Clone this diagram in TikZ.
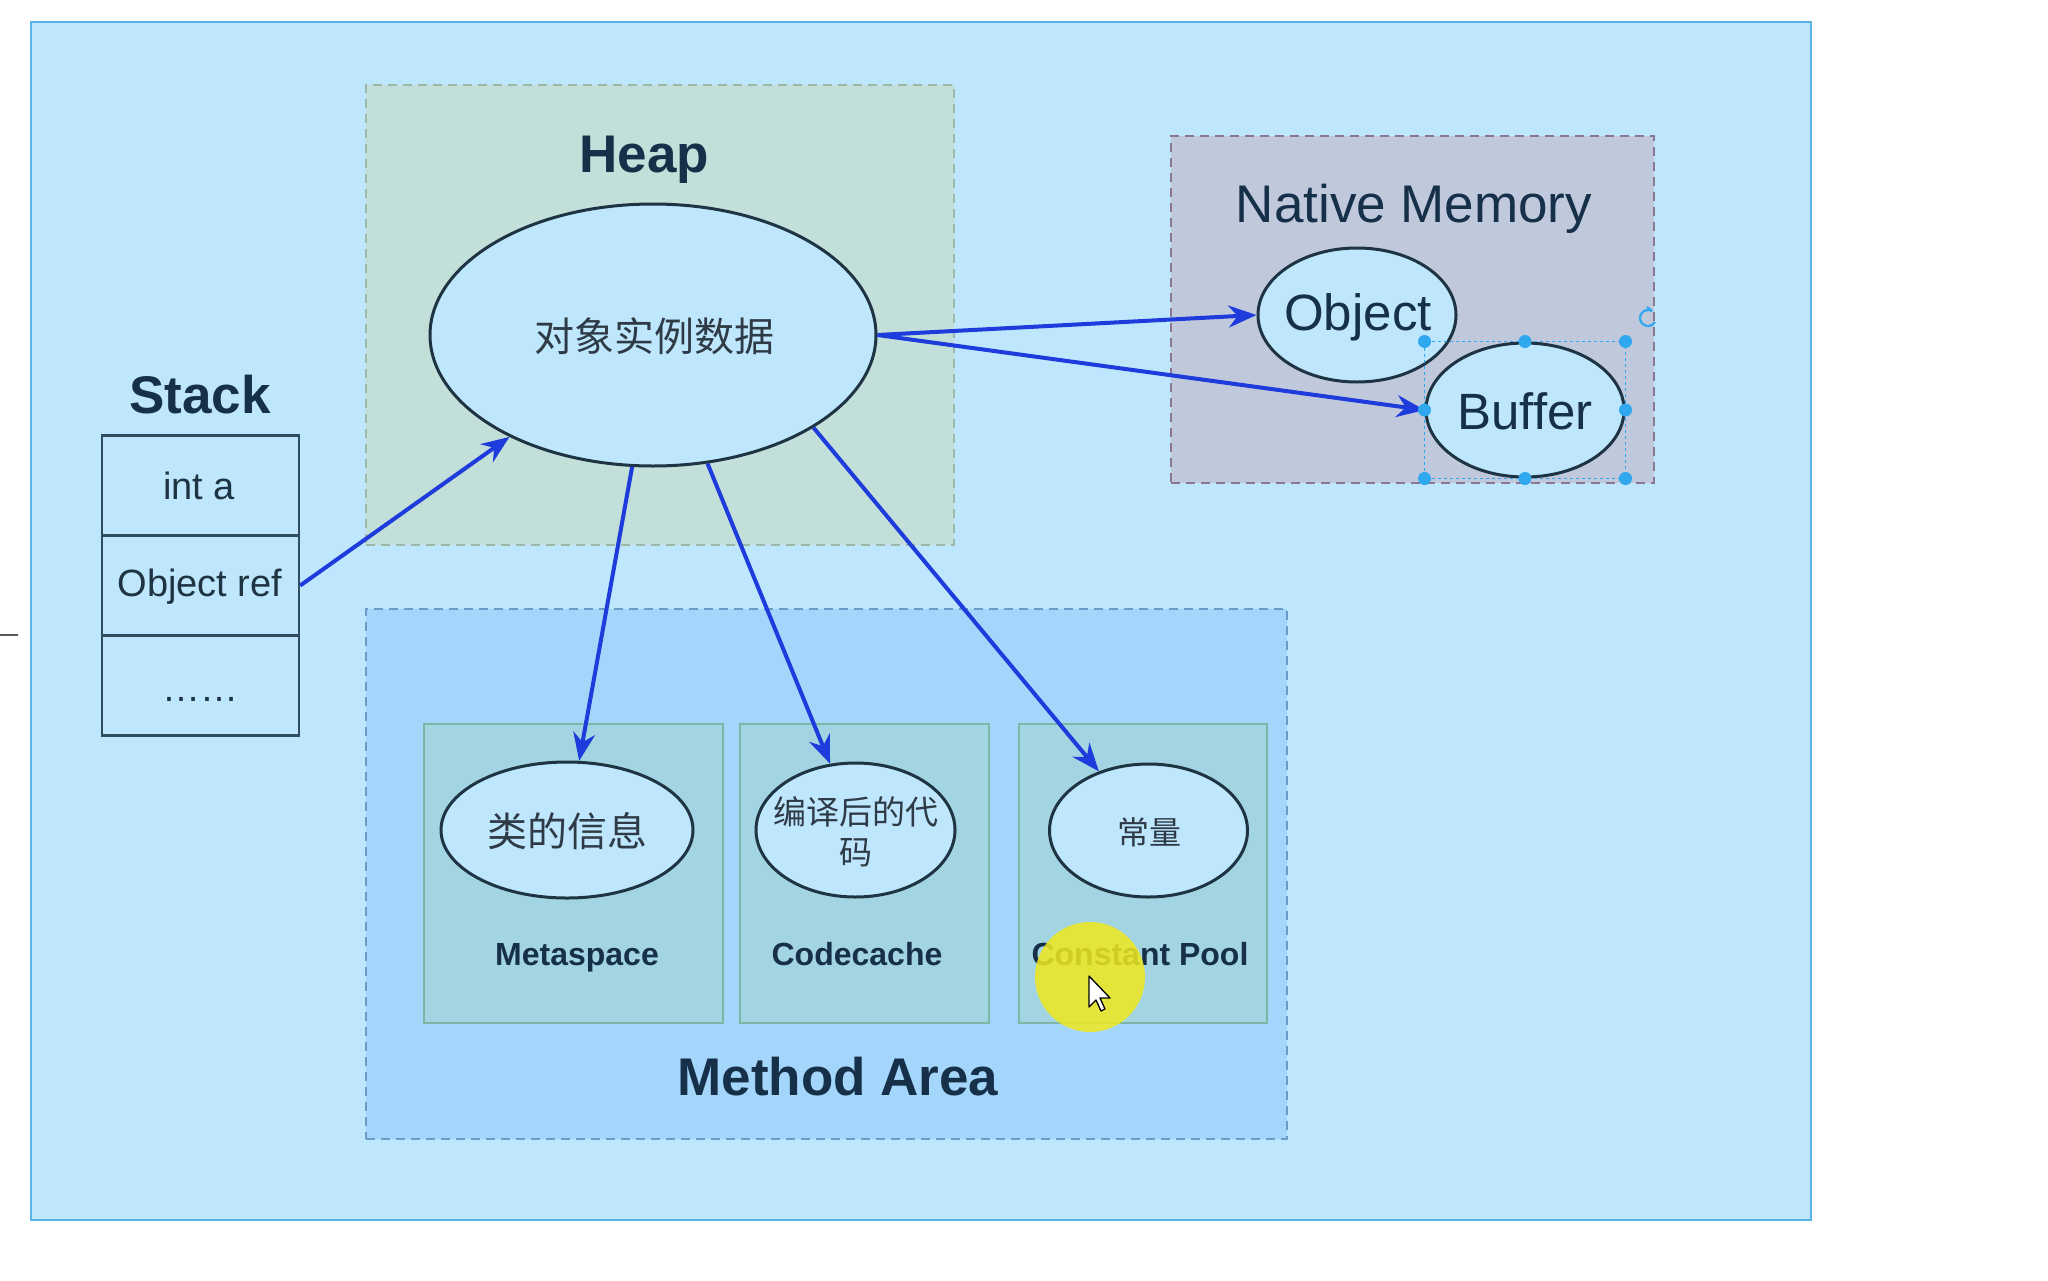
\documentclass[tikz,border=0pt]{standalone}
\usepackage{fontspec}
\setmainfont{Liberation Sans}
\newfontfamily\cjk{Noto Sans CJK SC}
\usetikzlibrary{shapes.geometric,arrows.meta}
\definecolor{bgblue}{HTML}{BEE6FC}
\definecolor{outerline}{HTML}{5AB4E6}
\definecolor{heapfill}{HTML}{C2DFDA}
\definecolor{heapline}{HTML}{9DB8A6}
\definecolor{nativefill}{HTML}{C0C8DC}
\definecolor{nativeline}{HTML}{8A7890}
\definecolor{methodfill}{HTML}{A3D6FA}
\definecolor{methodline}{HTML}{6A9BC9}
\definecolor{subfill}{HTML}{A3D4E1}
\definecolor{subline}{HTML}{7DB5A6}
\definecolor{darkline}{HTML}{1E3442}
\definecolor{cellline}{HTML}{2F4D5E}
\definecolor{navy}{HTML}{16304A}
\definecolor{cjkgray}{HTML}{2E3B46}
\definecolor{arrowblue}{HTML}{1E3CDC}
\definecolor{handle}{HTML}{2FA8F0}
\definecolor{hilite}{HTML}{F0E81E}
\tikzset{
  box/.style={rectangle, inner sep=0pt, line width=2pt},
  ell/.style={ellipse, draw=darkline, fill=bgblue, line width=3pt, inner sep=0pt},
  stackcell/.style={rectangle, draw=cellline, fill=bgblue, line width=2.5pt, minimum width=197pt, minimum height=100pt, inner sep=0pt},
  celltext/.style={inner sep=0pt, text=darkline, font=\fontsize{38}{44}\selectfont},
  ctext/.style={inner sep=0pt, text=cjkgray},
  etext/.style={inner sep=0pt, text=navy, font=\fontsize{51}{60}\selectfont},
  bigtitle/.style={inner sep=0pt, anchor=base, text=navy, font=\fontsize{53}{60}\selectfont\bfseries},
  sublabel/.style={inner sep=0pt, anchor=base, text=navy, font=\fontsize{32}{40}\selectfont\bfseries},
  link/.style={draw=arrowblue, line width=4pt, -{Stealth[length=28pt,width=22pt]}},
  hdl/.style={circle, fill=handle, minimum size=13pt, inner sep=0pt}
}
\begin{document}
\begin{tikzpicture}[x=1pt,y=-1pt]
\useasboundingbox (0,0) rectangle (2048,1280);
\fill[white] (0,0) rectangle (2048,1280);
% left stub
\coordinate (stubA) at (0,635);
\coordinate (stubB) at (18,635);
\draw[line width=2pt, gray!70!black] (stubA) -- (stubB);
% outer frame
\node[box, draw=outerline, fill=bgblue, minimum width=1780pt, minimum height=1198pt] (outer) at (921,621) {};
% containers
\node[box, draw=heapline, fill=heapfill, dash pattern=on 9pt off 6pt, minimum width=588pt, minimum height=460pt] (heapbox) at (660,315) {};
\node[box, draw=nativeline, fill=nativefill, dash pattern=on 9pt off 6pt, minimum width=483pt, minimum height=347pt] (nativebox) at (1412.5,309.5) {};
\node[box, draw=methodline, fill=methodfill, dash pattern=on 9pt off 6pt, minimum width=921pt, minimum height=530pt] (methodbox) at (826.5,874) {};
\node[box, draw=subline, fill=subfill, minimum width=299pt, minimum height=299pt] (metabox) at (573.5,873.5) {};
\node[box, draw=subline, fill=subfill, minimum width=249pt, minimum height=299pt] (codebox) at (864.5,873.5) {};
\node[box, draw=subline, fill=subfill, minimum width=248pt, minimum height=299pt] (constbox) at (1143,873.5) {};
% titles
\node[bigtitle] (heaplbl) at (644.5,172) {Heap};
\node[bigtitle] (stacklbl) at (200,413) {Stack};
\node[bigtitle] (methodlbl) at (838,1095) {Method Area};
\node[bigtitle, font=\fontsize{53}{60}\selectfont] (nativelbl) at (1414,222) {Native Memory};
% stack
\node[stackcell] (cella) at (200.5,485.5) {};
\node[stackcell] (ref) at (200.5,585.5) {};
\node[stackcell] (celldots) at (200.5,685.5) {};
\node[celltext] (cellatxt) at (199,486) {int a};
\node[celltext] (reftxt) at (200,587) {Object ref};
\node[celltext, anchor=base] (dotstxt) at (200,701) {……};
% ellipses
\node[ell, minimum width=446pt, minimum height=262pt] (heap) at (653,335) {};
\node[ell, minimum width=198pt, minimum height=134pt] (obj) at (1357,315) {};
\node[ell, minimum width=198pt, minimum height=134pt] (buf) at (1525,410) {};
\node[ell, minimum width=252pt, minimum height=136pt] (meta) at (567,830) {};
\node[ell, minimum width=199pt, minimum height=134pt] (code) at (855.5,830) {};
\node[ell, minimum width=198pt, minimum height=133pt] (const) at (1148.5,830.5) {};
% ellipse texts
\node[ctext, font=\cjk\fontsize{40}{48}\selectfont] (heaptxt) at (654,336) {对象实例数据};
\node[etext] (objtxt) at (1358,317) {Object};
\node[etext] (buftxt) at (1525,411) {Buffer};
\node[ctext, font=\cjk\fontsize{40}{48}\selectfont] (metatxt) at (567,831) {类的信息};
\node[ctext, align=center, font=\cjk\fontsize{33}{40}\selectfont] (codetxt) at (856,832) {编译后的代\\码};
\node[ctext, font=\cjk\fontsize{32}{40}\selectfont] (consttxt) at (1149,832) {常量};
% sub labels
\node[sublabel] (metalbl) at (577,965) {Metaspace};
\node[sublabel] (codelbl) at (857,965) {Codecache};
\node[sublabel] (constlbl) at (1140,965) {Constant Pool};
% arrows
\draw[link] (ref.east) -- (heap);
\draw[link] (heap.east) -- (obj.west);
\draw[link] (heap.east) -- (buf.west);
\draw[link] (heap.261) -- (meta.80);
\draw[link] (heap.293) -- (code.111);
\draw[link] (heap.330) -- (const.130);
% selection overlay on Buffer
\coordinate (bnw) at (buf.west |- buf.north);
\coordinate (bne) at (buf.east |- buf.north);
\coordinate (bsw) at (buf.west |- buf.south);
\coordinate (bse) at (buf.east |- buf.south);
\draw[handle, line width=1.2pt, dash pattern=on 3pt off 3pt] (bnw) rectangle (bse);
\foreach \p in {bnw,bne,bsw,bse,buf.north,buf.south,buf.west,buf.east}
  \node[hdl] at (\p) {};
\coordinate (rot) at (1648,318);
\draw[handle, line width=2.2pt] ([shift={(60:8pt)}]rot) arc[start angle=60, end angle=330, radius=8pt];
\draw[handle, line width=2.2pt] ([shift={(60:8pt)}]rot) -- ++(-5,-4);
% cursor highlight
\fill[hilite, opacity=0.85] (1090,977) circle[radius=55pt];
\coordinate (tip) at (1089,976);
\draw[black, fill=white, line width=1.3pt, line join=round]
  (tip) -- ++(0,31) -- ++(7,-7) -- ++(5,11) -- ++(4,-2) -- ++(-5,-11) -- ++(10,0) -- cycle;
\end{tikzpicture}
\end{document}
